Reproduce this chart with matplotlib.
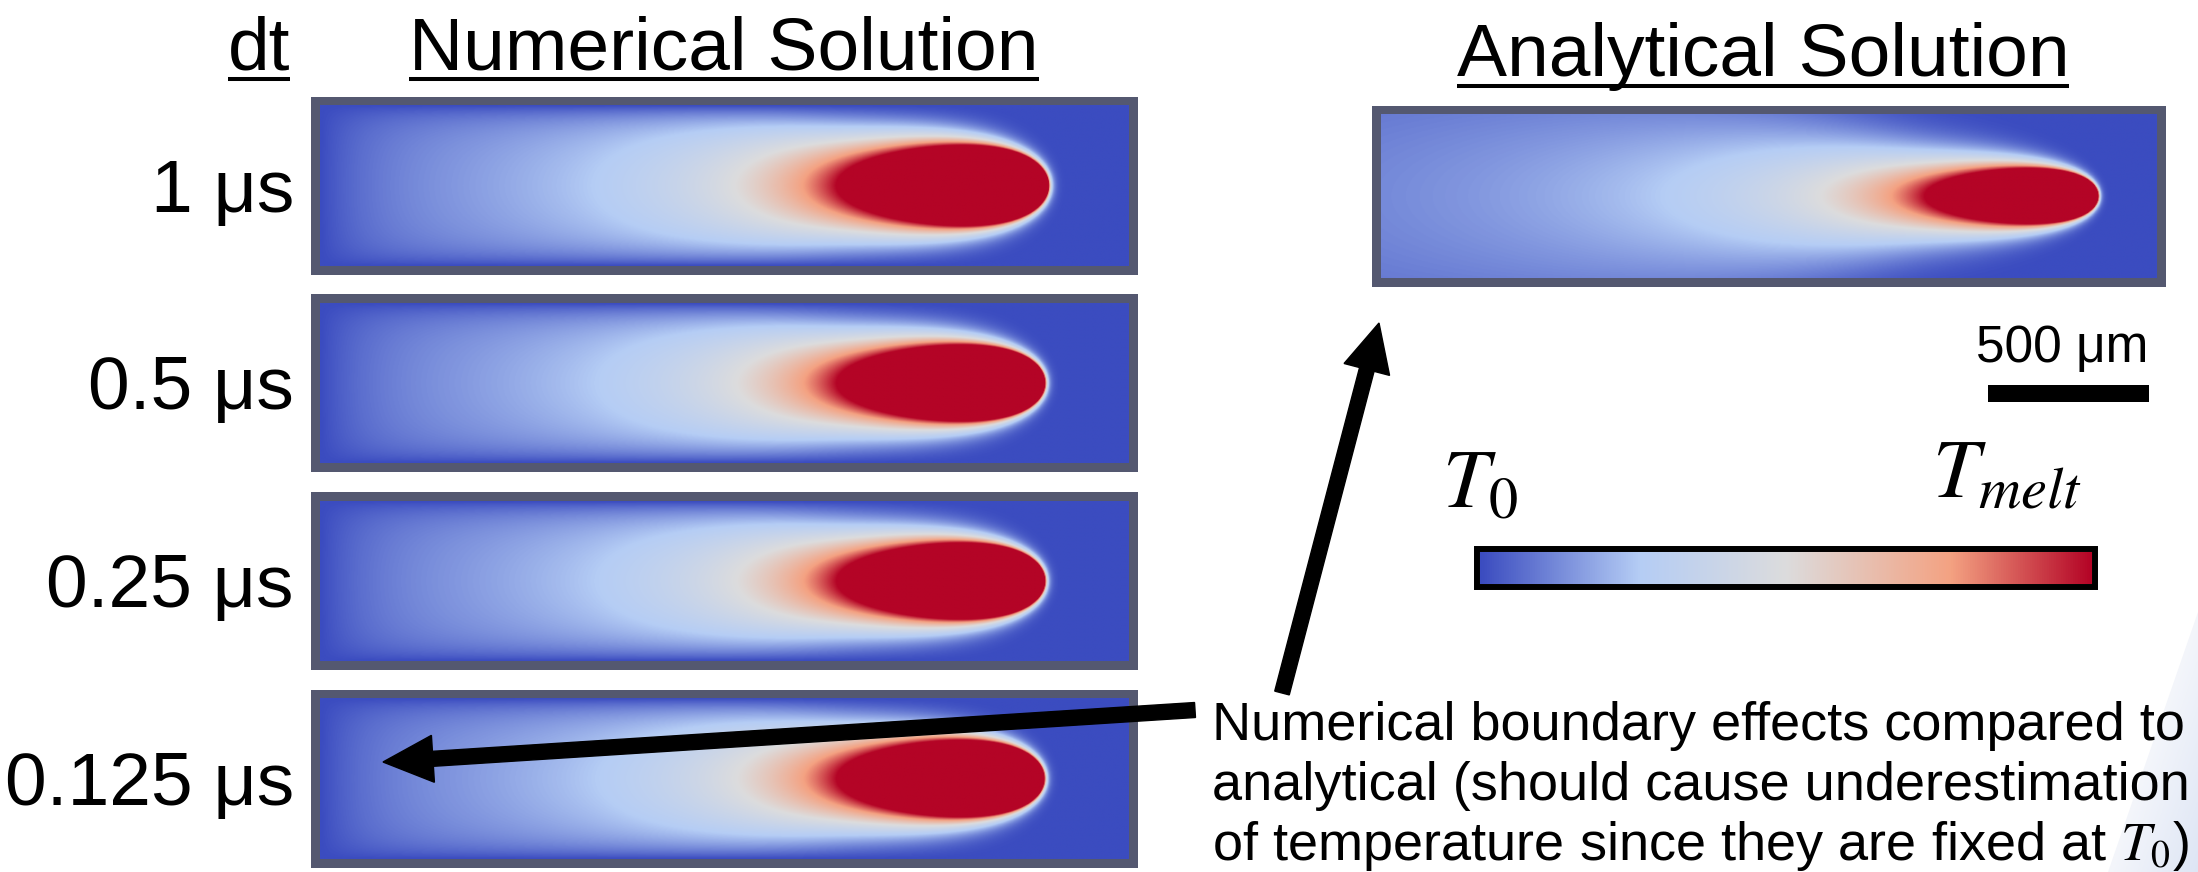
import numpy as np
import matplotlib
matplotlib.use('Agg')
import matplotlib.pyplot as plt
from matplotlib.colors import LinearSegmentedColormap
from matplotlib.patches import Rectangle, FancyArrow, Polygon

plt.rcParams['font.family'] = ['Liberation Sans', 'DejaVu Sans']
plt.rcParams['mathtext.fontset'] = 'stix'

# ---- values ----
dt_labels = ['1 μs', '0.5 μs', '0.25 μs', '0.125 μs']

# melt pool fits (μm): heat source position, strength (~rear melt length),
# diffusion length, tail falloff exponent, tail widening scale
num_source_x = [2216, 2208, 2208, 2206]
num_strength = [628, 620, 620, 618]
num_difflen = [23, 21, 21, 21]
num_falloff = 1.7
num_widen = 450
wall_decay = [40, 150]          # numerical T0 boundaries: top/bottom, left

ana_source_x = 2200
ana_strength = 535
ana_difflen = 14.5
ana_falloff = 1.45
ana_widen = 600

cbar_pos = [0.0, 0.26, 0.5, 0.77, 1.0]
cbar_colors = ['#3b4cc0', '#b5cdf5', '#dcdcdd', '#f4a282', '#b40426']

scale_um = 500
scale_px = 161

note_lines = ['Numerical boundary effects compared to',
              'analytical (should cause underestimation',
              'of temperature since they are fixed at $T_0$)']

# ---- layout (figure pixels) ----
W, H = 2198, 872
num_x = (311, 1138)
num_tops = [97, 294, 492, 690]
num_h = 178
ana_box = (1372, 106, 2166, 287)
frame = 9
frame_color = '#545870'

cmap = LinearSegmentedColormap.from_list('cw', list(zip(cbar_pos, cbar_colors)))


def temp_field(w_um, h_um, xs, A, ell0, p, widen, wall=None):
    x = np.linspace(0, w_um, 900)
    y = np.linspace(-h_um / 2, h_um / 2, 220)
    X, Y = np.meshgrid(x, y)
    xi = X - xs
    r = np.hypot(xi, Y) + 1.0
    # tail widens smoothly behind the melt pool
    behind = 80 * np.log1p(np.exp((-xi - A) / 80))
    ell = ell0 * (1 + behind / widen)
    T = (A / r) ** p * np.exp(-(xi + r) / ell)
    if wall is not None:
        dy = h_um / 2 - np.abs(Y)
        T = T * (1 - np.exp(-dy / wall[0])) * (1 - np.exp(-X / wall[1])) \
            * (1 - np.exp(-(w_um - X) / wall[0]))
    return np.clip(T, 0, 1)


def panel(ax, x0, y0, x1, y1, T):
    ax.add_patch(Rectangle((x0, y0), x1 - x0, y1 - y0, facecolor=frame_color,
                           edgecolor='none', zorder=1))
    ax.imshow(T, cmap=cmap, vmin=0, vmax=1, extent=(x0 + frame, x1 - frame, y1 - frame, y0 + frame),
              aspect='auto', interpolation='bilinear', zorder=2)


fig = plt.figure(figsize=(W / 100, H / 100), dpi=100)
ax = fig.add_axes([0, 0, 1, 1])

# faint background decoration lower right
tri = Polygon([(2198, 612), (2198, 872), (2108, 872)], closed=True,
              facecolor='none', edgecolor='none')
ax.add_patch(tri)
gx, gy = np.meshgrid(np.linspace(2100, 2198, 60), np.linspace(600, 872, 120))
shade = np.clip(((gx - 2198) * (872 - 612) + (gy - 612) * (2198 - 2108)) / 30000.0, 0, 1)
bg = ax.imshow(shade, cmap=LinearSegmentedColormap.from_list('bg', ['#f4f6fb', '#d8e1f3']),
               vmin=0, vmax=1, extent=(2100, 2198, 872, 600), aspect='auto', zorder=0)
bg.set_clip_path(tri)

um_per_px = scale_um / scale_px

# numerical panels
for i, top in enumerate(num_tops):
    w_um = (num_x[1] - num_x[0] - 2 * frame) * um_per_px
    h_um = (num_h - 2 * frame) * um_per_px
    T = temp_field(w_um, h_um, num_source_x[i], num_strength[i], num_difflen[i],
                   num_falloff, num_widen, wall=wall_decay)
    panel(ax, num_x[0], top, num_x[1], top + num_h, T)
    ax.text(294, top + num_h / 2 + 26, dt_labels[i], fontsize=54, ha='right', va='baseline')

# analytical panel
x0, y0, x1, y1 = ana_box
w_um = (x1 - x0 - 2 * frame) * um_per_px
h_um = (y1 - y0 - 2 * frame) * um_per_px
panel(ax, x0, y0, x1, y1, temp_field(w_um, h_um, ana_source_x, ana_strength, ana_difflen,
                                     ana_falloff, ana_widen))

# headings
heads = [
    ax.text(259, 69, 'dt', fontsize=54, ha='center', va='baseline'),
    ax.text(724, 69, 'Numerical Solution', fontsize=54, ha='center', va='baseline'),
    ax.text(1763, 76, 'Analytical Solution', fontsize=54, ha='center', va='baseline'),
]
head_base = [69, 69, 76]

# scale bar
ax.text(2148, 362, f'{scale_um} μm', fontsize=37, ha='right', va='baseline')
ax.add_patch(Rectangle((2149 - scale_px, 385), scale_px, 17, facecolor='black', edgecolor='none'))

# colour bar
ax.imshow(np.linspace(0, 1, 512)[None, :], cmap=cmap, extent=(1480, 2092, 584, 552),
          aspect='auto', zorder=2)
ax.add_patch(Rectangle((1477, 549), 618, 38, facecolor='none', edgecolor='black',
                       linewidth=4.3, zorder=3))
ax.text(1442, 507, r'$T_0$', fontsize=60, ha='left', va='baseline')
ax.text(1932, 497, r'$T_{melt}$', fontsize=60, ha='left', va='baseline')

# arrows
ax.add_patch(FancyArrow(1282, 693, 1379 - 1282, 323 - 693, width=15, head_width=47,
                        head_length=48, length_includes_head=True, color='black', zorder=4))
ax.add_patch(FancyArrow(1195, 710, 383 - 1195, 762 - 710, width=15, head_width=47,
                        head_length=50, length_includes_head=True, color='black', zorder=4))

# note
for k, line in enumerate(note_lines):
    ax.text(1212, 740 + 60 * k, line, fontsize=39, ha='left', va='baseline')

ax.set_xlim(0, W)
ax.set_ylim(H, 0)
ax.axis('off')

# underline headings
fig.canvas.draw()
inv = ax.transData.inverted()
for t, b in zip(heads, head_base):
    bb = t.get_window_extent()
    (xa, _), (xb, _) = inv.transform([[bb.x0, bb.y0], [bb.x1, bb.y0]])
    ax.plot([xa, xb], [b + 10, b + 10], color='black', linewidth=2.9, solid_capstyle='butt')

fig.savefig('out.png', dpi=100)
